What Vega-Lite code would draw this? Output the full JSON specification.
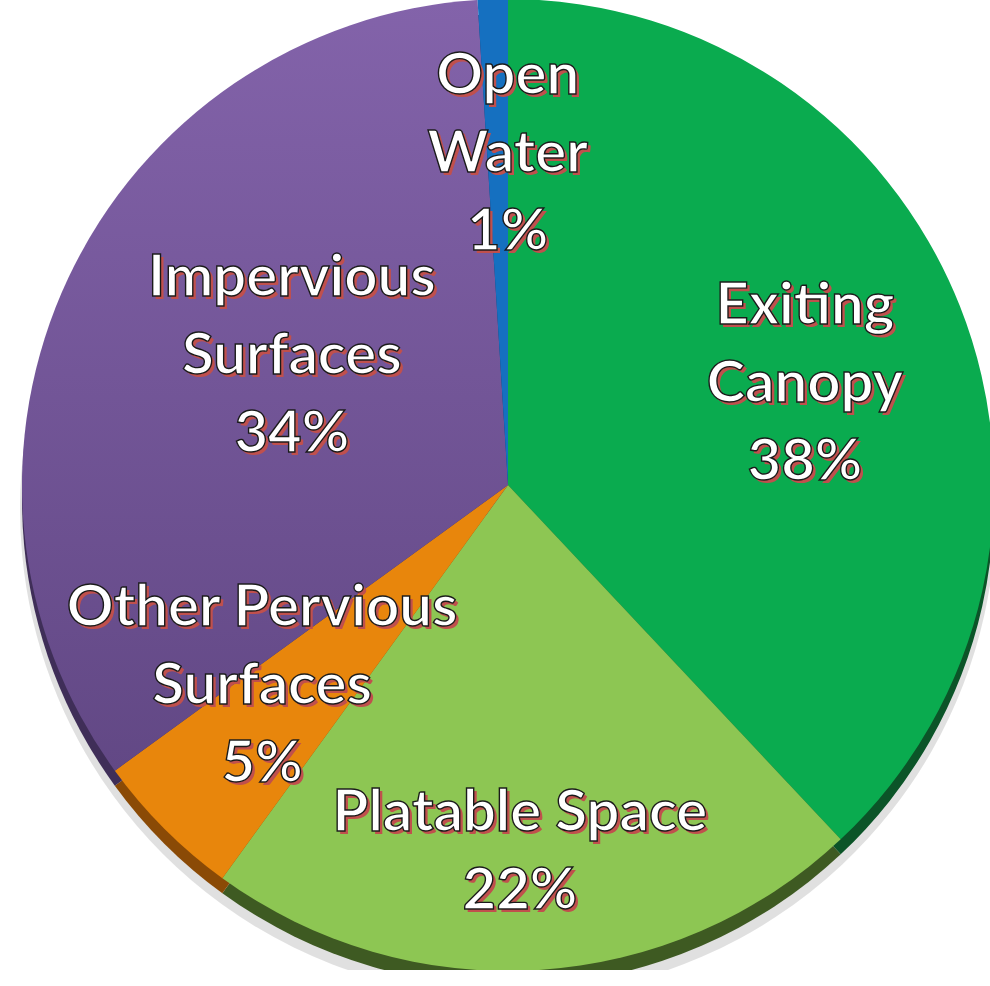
{
  "$schema": "https://vega.github.io/schema/vega-lite/v6.json",
  "width": 1016,
  "height": 970,
  "padding": 0,
  "autosize": {"type": "none"},
  "background": "#ffffff",
  "view": {"stroke": null},
  "data": {
    "values": [
      {"idx": 1, "category": "Exiting Canopy", "value": 38, "label": "Exiting\nCanopy\n38%"},
      {"idx": 2, "category": "Platable Space", "value": 22, "label": "Platable Space\n22%"},
      {"idx": 3, "category": "Other Pervious Surfaces", "value": 5, "label": "Other Pervious\nSurfaces\n5%"},
      {"idx": 4, "category": "Impervious Surfaces", "value": 34, "label": "Impervious\nSurfaces\n34%"},
      {"idx": 5, "category": "Open Water", "value": 1, "label": "Open\nWater\n1%"}
    ]
  },
  "encoding": {
    "theta": {"field": "value", "type": "quantitative", "stack": true},
    "order": {"field": "idx", "type": "quantitative"}
  },
  "layer": [
    {
      "mark": {"type": "arc", "outerRadius": 488, "yOffset": 24, "fill": "#000000", "opacity": 0.12, "stroke": null},
      "encoding": {"detail": {"field": "category"}}
    },
    {
      "mark": {"type": "arc", "outerRadius": 486, "yOffset": 15, "stroke": null},
      "encoding": {
        "color": {
          "field": "category", "type": "nominal", "legend": null,
          "scale": {
            "domain": ["Exiting Canopy", "Platable Space", "Other Pervious Surfaces", "Impervious Surfaces", "Open Water"],
            "range": ["#0b5428", "#3e5a22", "#8a4a06", "#3f2e58", "#0e3e6e"]
          }
        }
      }
    },
    {
      "mark": {"type": "arc", "outerRadius": 486, "stroke": null},
      "encoding": {
        "fill": {
          "condition": {
            "test": "datum.category === 'Impervious Surfaces'",
            "value": {"gradient": "linear", "x1": 0, "y1": 0, "x2": 0, "y2": 1, "stops": [{"offset": 0, "color": "#8363aa"}, {"offset": 1, "color": "#624885"}]}
          },
          "field": "category", "type": "nominal", "legend": null,
          "scale": {
            "domain": ["Exiting Canopy", "Platable Space", "Other Pervious Surfaces", "Impervious Surfaces", "Open Water"],
            "range": ["#0aab4f", "#8dc653", "#e8860c", "#735695", "#1570c0"]
          }
        }
      }
    },
    {
      "encoding": {
        "detail": {"field": "category"},
        "text": {"condition": {"test": "datum.category === 'Open Water'", "field": "label"}, "value": ""}
      },
      "layer": [
        {"mark": {"type": "text", "radius": 330, "dx": 13, "dy": -75, "fill": "#c0504d", "font": "Lato", "fontWeight": "bold", "fontSize": 58, "lineHeight": 78, "lineBreak": "\n", "align": "center", "baseline": "middle"}},
        {"mark": {"type": "text", "radius": 330, "dx": 10, "dy": -78, "fill": "#ffffff", "stroke": "#1a1a1a", "strokeWidth": 1.4, "font": "Lato", "fontWeight": "bold", "fontSize": 58, "lineHeight": 78, "lineBreak": "\n", "align": "center", "baseline": "middle"}}
      ]
    },
    {
      "encoding": {
        "detail": {"field": "category"},
        "text": {"condition": {"test": "datum.category === 'Exiting Canopy'", "field": "label"}, "value": ""}
      },
      "layer": [
        {"mark": {"type": "text", "radius": 314, "dx": 8, "dy": -59, "fill": "#c0504d", "font": "Lato", "fontWeight": "bold", "fontSize": 58, "lineHeight": 78, "lineBreak": "\n", "align": "center", "baseline": "middle"}},
        {"mark": {"type": "text", "radius": 314, "dx": 5, "dy": -62, "fill": "#ffffff", "stroke": "#1a1a1a", "strokeWidth": 1.4, "font": "Lato", "fontWeight": "bold", "fontSize": 58, "lineHeight": 78, "lineBreak": "\n", "align": "center", "baseline": "middle"}}
      ]
    },
    {
      "encoding": {
        "detail": {"field": "category"},
        "text": {"condition": {"test": "datum.category === 'Platable Space'", "field": "label"}, "value": ""}
      },
      "layer": [
        {"mark": {"type": "text", "radius": 366, "dx": -8, "dy": -33, "fill": "#c0504d", "font": "Lato", "fontWeight": "bold", "fontSize": 58, "lineHeight": 78, "lineBreak": "\n", "align": "center", "baseline": "middle"}},
        {"mark": {"type": "text", "radius": 366, "dx": -11, "dy": -36, "fill": "#ffffff", "stroke": "#1a1a1a", "strokeWidth": 1.4, "font": "Lato", "fontWeight": "bold", "fontSize": 58, "lineHeight": 78, "lineBreak": "\n", "align": "center", "baseline": "middle"}}
      ]
    },
    {
      "encoding": {
        "detail": {"field": "category"},
        "text": {"condition": {"test": "datum.category === 'Other Pervious Surfaces'", "field": "label"}, "value": ""}
      },
      "layer": [
        {"mark": {"type": "text", "radius": 318, "dx": -18, "dy": -98, "fill": "#c0504d", "font": "Lato", "fontWeight": "bold", "fontSize": 58, "lineHeight": 78, "lineBreak": "\n", "align": "center", "baseline": "middle"}},
        {"mark": {"type": "text", "radius": 318, "dx": -21, "dy": -101, "fill": "#ffffff", "stroke": "#1a1a1a", "strokeWidth": 1.4, "font": "Lato", "fontWeight": "bold", "fontSize": 58, "lineHeight": 78, "lineBreak": "\n", "align": "center", "baseline": "middle"}}
      ]
    },
    {
      "encoding": {
        "detail": {"field": "category"},
        "text": {"condition": {"test": "datum.category === 'Impervious Surfaces'", "field": "label"}, "value": ""}
      },
      "layer": [
        {"mark": {"type": "text", "radius": 251, "dx": 14, "dy": -96, "fill": "#c0504d", "font": "Lato", "fontWeight": "bold", "fontSize": 58, "lineHeight": 78, "lineBreak": "\n", "align": "center", "baseline": "middle"}},
        {"mark": {"type": "text", "radius": 251, "dx": 11, "dy": -99, "fill": "#ffffff", "stroke": "#1a1a1a", "strokeWidth": 1.4, "font": "Lato", "fontWeight": "bold", "fontSize": 58, "lineHeight": 78, "lineBreak": "\n", "align": "center", "baseline": "middle"}}
      ]
    }
  ],
  "resolve": {"scale": {"color": "independent", "fill": "independent"}}
}
